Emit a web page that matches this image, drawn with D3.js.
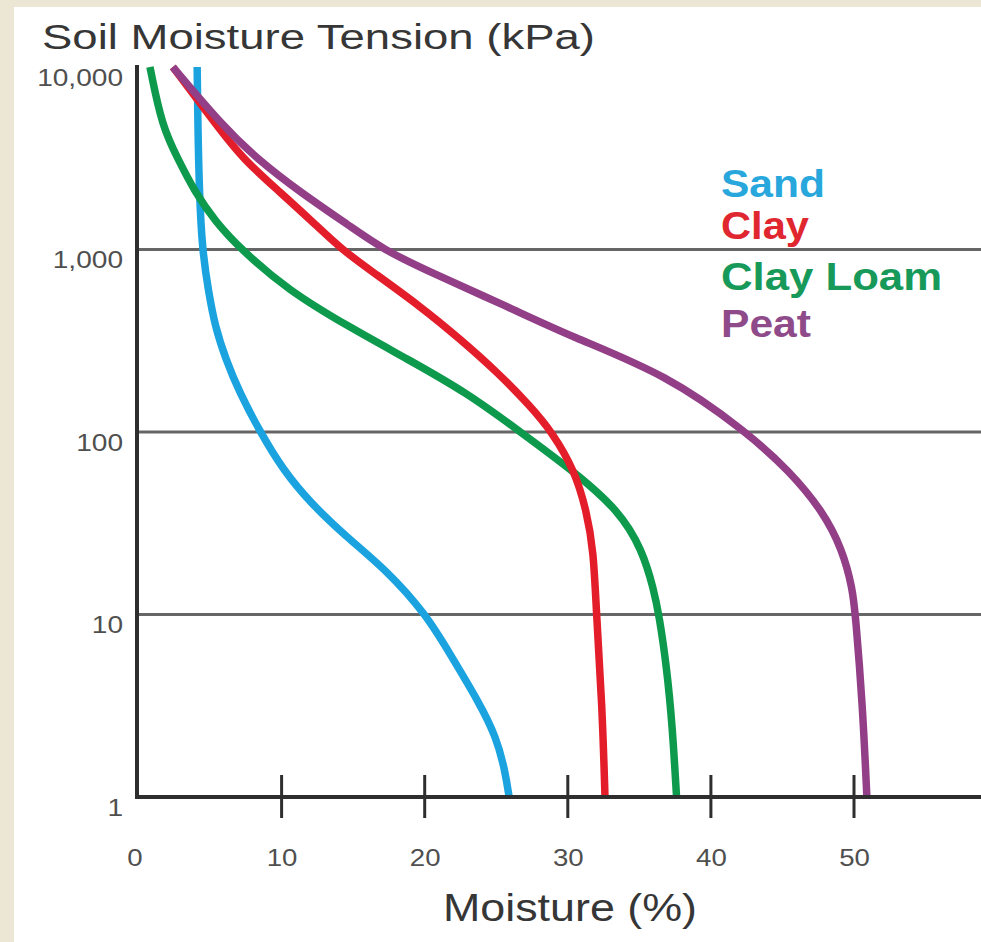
<!DOCTYPE html>
<html>
<head>
<meta charset="utf-8">
<script src="https://cdn.jsdelivr.net/npm/d3@7/dist/d3.min.js"></script>
<style>
  html, body { margin: 0; padding: 0; background: #ece6d5; }
  svg { display: block; }
  text { font-family: "Liberation Sans", Arial, Helvetica, sans-serif; }
</style>
</head>
<body>
<svg id="chart" width="981" height="942"></svg>
<script>
// ---- data (moisture %, tension kPa) ----
const seriesNames = ["Sand", "Clay", "Clay Loam", "Peat"];
const seriesColors = ["#1ba3e0", "#e31e2a", "#0e9a4c", "#923f88"];
const legendColors = ["#28a7dd", "#e0262f", "#17995a", "#8f4a8a"];

const sandMoisture = [4.1, 4.15, 4.25, 4.45, 4.9, 5.35, 6.1, 7.05, 8.5, 10.1, 12.0, 14.5, 17.3, 20.1, 21.7, 23.8, 25.0, 25.6, 25.9];
const sandTension  = [10000, 4700, 2060, 1000, 582, 379, 250, 165, 100, 62, 41, 26.7, 17.6, 10, 6.2, 3.3, 2.13, 1.41, 1];

const clayMoisture = [2.4, 5.5, 7.3, 9.9, 12.5, 14.2, 16.4, 19.7, 22.5, 25.1, 27.4, 28.9, 30.5, 31.3, 31.8, 32.0, 32.4, 32.6];
const clayTension  = [10000, 4740, 3130, 2060, 1340, 1000, 750, 488, 322, 212, 138, 100, 61, 37, 22.6, 10, 3.2, 1];

const clayLoamMoisture = [0.8, 1.64, 2.76, 3.95, 5.35, 7.16, 10.45, 14.64, 18.83, 22.9, 26.7, 30.4, 33.6, 35.2, 36.0, 36.4, 36.9, 37.3, 37.6];
const clayLoamTension  = [10000, 4740, 3130, 2060, 1429, 1000, 598, 379, 250, 165, 100, 61, 37, 22.6, 13.8, 9.7, 5.2, 2.5, 1];

const peatMoisture = [2.4, 5.9, 8.3, 11.3, 14.8, 17.1, 20.4, 25.75, 30.2, 36.9, 42.5, 45.5, 47.8, 49.2, 49.9, 50.1, 50.6, 50.9];
const peatTension  = [10000, 4740, 3130, 2060, 1340, 1000, 750, 488, 334, 207, 100, 61, 37, 22.6, 13.8, 10, 3.2, 1];

const xTickValues = [0, 10, 20, 30, 40, 50];
const xTickMarks = [10, 20, 30, 40, 50];
const yTickValues = [1, 10, 100, 1000, 10000];
const gridValues = [10, 100, 1000];

const titleText = "Soil Moisture Tension (kPa)";
const xLabelText = "Moisture (%)";

// ---- layout ----
const W = 981, H = 942;
const svg = d3.select("#chart");

svg.append("rect").attr("x", 0).attr("y", 0).attr("width", W).attr("height", H).attr("fill", "#ece6d5");
svg.append("rect").attr("x", 14).attr("y", 7).attr("width", W - 14).attr("height", H - 7).attr("fill", "#ffffff");

const x = d3.scaleLinear().domain([0, 50]).range([138.5, 854]);
const y = d3.scaleLog().domain([1, 10000]).range([797, 67]);
const xLeft = 137, xRight = W;

// grid lines
svg.append("g").selectAll("line").data(gridValues).join("line")
  .attr("x1", xLeft).attr("x2", xRight)
  .attr("y1", d => y(d)).attr("y2", d => y(d))
  .attr("stroke", "#666666").attr("stroke-width", 3);

// curves
const series = [
  { name: "Sand", m: sandMoisture, t: sandTension, c: seriesColors[0] },
  { name: "Clay Loam", m: clayLoamMoisture, t: clayLoamTension, c: seriesColors[2] },
  { name: "Clay", m: clayMoisture, t: clayTension, c: seriesColors[1] },
  { name: "Peat", m: peatMoisture, t: peatTension, c: seriesColors[3] }
];
const line = d3.line()
  .x(d => x(d[0])).y(d => y(d[1]))
  .curve(d3.curveBasis);

svg.append("g").selectAll("path").data(series).join("path")
  .attr("d", s => line(s.m.map((v, i) => [v, s.t[i]])))
  .attr("fill", "none")
  .attr("stroke", s => s.c)
  .attr("stroke-width", 7.5)
  .attr("stroke-linecap", "butt")
  .attr("stroke-linejoin", "round");

// axes lines
svg.append("line").attr("x1", xLeft).attr("x2", xLeft).attr("y1", 65).attr("y2", 799)
  .attr("stroke", "#2e2e2e").attr("stroke-width", 4);
svg.append("line").attr("x1", xLeft - 2).attr("x2", xRight).attr("y1", 797).attr("y2", 797)
  .attr("stroke", "#2e2e2e").attr("stroke-width", 4);

// x tick marks
svg.append("g").selectAll("line").data(xTickMarks).join("line")
  .attr("x1", d => x(d)).attr("x2", d => x(d))
  .attr("y1", 775).attr("y2", 818)
  .attr("stroke", "#2e2e2e").attr("stroke-width", 3);

// x tick labels via axis
const xAxis = d3.axisBottom(x).tickValues(xTickValues).tickFormat(d3.format("d")).tickSize(0).tickPadding(0);
const gx = svg.append("g").attr("transform", "translate(0,866)").call(xAxis);
gx.select(".domain").remove();
gx.selectAll("text")
  .attr("y", 0).attr("dy", 0)
  .attr("fill", "#4f4f4f")
  .style("font-size", "23px")
  .style("font-family", "'Liberation Sans', Arial, sans-serif")
  .attr("dx", d => d === 0 ? -4 : 0)
  .each(function() {
    const w = this.getComputedTextLength();
    d3.select(this).attr("textLength", w * 1.2).attr("lengthAdjust", "spacingAndGlyphs");
  });

// y tick labels via axis
const yAxis = d3.axisLeft(y).tickValues(yTickValues).tickFormat(d3.format(",")).tickSize(0).tickPadding(0);
const gy = svg.append("g").attr("transform", "translate(123,0)").call(yAxis);
gy.select(".domain").remove();
gy.selectAll("text")
  .attr("x", 0).attr("dy", 0)
  .attr("transform", "translate(0,18)")
  .attr("fill", "#4f4f4f")
  .style("font-size", "24px")
  .style("font-family", "'Liberation Sans', Arial, sans-serif")
  .each(function() {
    const w = this.getComputedTextLength();
    d3.select(this).attr("textLength", w * 1.17).attr("lengthAdjust", "spacingAndGlyphs");
  });

// title
svg.append("text").attr("x", 42).attr("y", 49)
  .attr("fill", "#363636").style("font-size", "35px")
  .attr("textLength", 553).attr("lengthAdjust", "spacingAndGlyphs")
  .text(titleText);

// x axis label
svg.append("text").attr("x", 443).attr("y", 921)
  .attr("fill", "#363636").style("font-size", "38px")
  .attr("textLength", 254).attr("lengthAdjust", "spacingAndGlyphs")
  .text(xLabelText);

// legend
const legendY = [197, 239, 290, 337];
const legendW = [104, 88, 221, 90];
svg.append("g").selectAll("text").data(seriesNames).join("text")
  .attr("x", 721)
  .attr("y", (d, i) => legendY[i])
  .attr("fill", (d, i) => legendColors[i])
  .style("font-size", "38px").style("font-weight", "bold")
  .attr("textLength", (d, i) => legendW[i]).attr("lengthAdjust", "spacingAndGlyphs")
  .text(d => d);
</script>
</body>
</html>
